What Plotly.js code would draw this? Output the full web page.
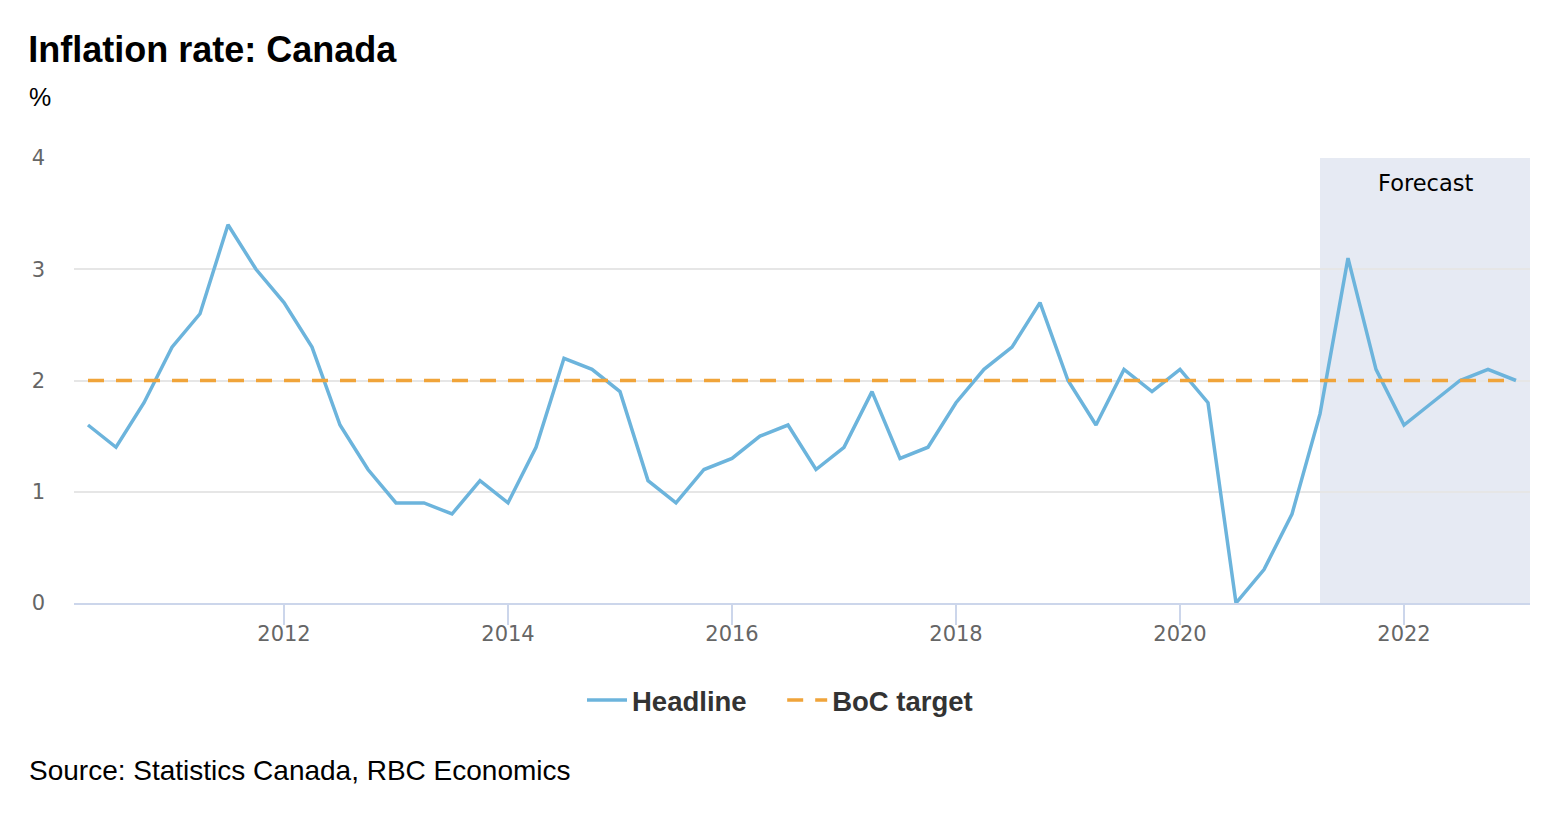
<!DOCTYPE html>
<html>
<head>
<meta charset="utf-8">
<script src="https://cdn.plot.ly/plotly-3.0.1.min.js"></script>
<style>html,body{margin:0;padding:0;background:#fff;}#chart{width:1568px;height:822px;}</style>
</head>
<body>
<div id="chart"></div>
<script>
// Quarterly dates (decimal years), Q2 2010 .. Q1 2023
const quarters = [
  2010.25,2010.5,2010.75,2011.0,2011.25,2011.5,2011.75,2012.0,
  2012.25,2012.5,2012.75,2013.0,2013.25,2013.5,2013.75,2014.0,
  2014.25,2014.5,2014.75,2015.0,2015.25,2015.5,2015.75,2016.0,
  2016.25,2016.5,2016.75,2017.0,2017.25,2017.5,2017.75,2018.0,
  2018.25,2018.5,2018.75,2019.0,2019.25,2019.5,2019.75,2020.0,
  2020.25,2020.5,2020.75,2021.0,2021.25,2021.5,2021.75,2022.0,
  2022.25,2022.5,2022.75,2023.0
];
const headline = [
  1.6,1.4,1.8,2.3,2.6,3.4,3.0,2.7,
  2.3,1.6,1.2,0.9,0.9,0.8,1.1,0.9,
  1.4,2.2,2.1,1.9,1.1,0.9,1.2,1.3,
  1.5,1.6,1.2,1.4,1.9,1.3,1.4,1.8,
  2.1,2.3,2.7,2.0,1.6,2.1,1.9,2.1,
  1.8,0.0,0.3,0.8,1.7,3.1,2.1,1.6,
  1.8,2.0,2.1,2.0
];
const bocTarget = quarters.map(() => 2.0);
const forecastStart = 2021.25;
const xRange = [2010.125, 2023.125];
const xTicks = [2012, 2014, 2016, 2018, 2020, 2022];
const yTicks = [0, 1, 2, 3, 4];

const traces = [
  {x: quarters, y: headline, name: '<b>Headline</b>&nbsp;&nbsp;&nbsp;&nbsp;', type: 'scatter', mode: 'lines',
   line: {color: '#6cb4dc', width: 3.5}},
  {x: quarters, y: bocTarget, name: '<b>BoC target</b>', type: 'scatter', mode: 'lines',
   line: {color: '#f0a43a', width: 3.5, dash: '16px,12px'}}
];

const layout = {
  width: 1568, height: 822,
  margin: {l: 74, r: 38, t: 158, b: 219},
  paper_bgcolor: '#ffffff', plot_bgcolor: '#ffffff',
  title: {text: '<b>Inflation rate: Canada</b>', xref: 'container', yref: 'container',
          x: 0.018, xanchor: 'left', y: 1 - 49/822, yanchor: 'middle',
          font: {family: 'Liberation Sans, Arial, sans-serif', size: 36, color: '#000'}},
  showlegend: true,
  legend: {orientation: 'h', x: (780 - 74) / 1456, xanchor: 'center', y: -0.218, yanchor: 'middle',
           font: {family: 'Liberation Sans, Arial, sans-serif', size: 27.5, color: '#333'},
           itemwidth: 40, tracegroupgap: 0},
  xaxis: {range: xRange, tickvals: xTicks, ticktext: xTicks.map(String),
          showgrid: false, zeroline: false, showline: true, linecolor: '#ccd6eb', linewidth: 2,
          ticks: 'outside', ticklen: 20, tickcolor: '#ccd6eb', tickwidth: 2, ticklabelstandoff: -9,
          tickfont: {family: 'DejaVu Sans, sans-serif', size: 21, color: '#666'}, fixedrange: true},
  yaxis: {range: [0, 4], tickvals: yTicks, showgrid: true, gridcolor: '#e6e6e6', gridwidth: 2,
          zeroline: false, showline: false, ticks: '', ticklabelstandoff: 28,
          tickfont: {family: 'DejaVu Sans, sans-serif', size: 21, color: '#666'}, fixedrange: true},
  shapes: [
    {type: 'rect', xref: 'x', yref: 'paper', x0: forecastStart, x1: xRange[1], y0: 0, y1: 1,
     fillcolor: '#e6eaf3', line: {width: 0}, layer: 'below'}
  ],
  annotations: [
    {text: 'Forecast', xref: 'x', yref: 'paper', x: (forecastStart + xRange[1]) / 2, y: 0.943,
     xanchor: 'center', yanchor: 'middle', showarrow: false,
     font: {family: 'DejaVu Sans, sans-serif', size: 22.5, color: '#000'}},
    {text: '%', xref: 'paper', yref: 'paper', x: -47/1456, y: 1 + (158-97)/445,
     xanchor: 'left', yanchor: 'middle', showarrow: false,
     font: {family: 'Liberation Sans, Arial, sans-serif', size: 25, color: '#000'}},
    {text: 'Source: Statistics Canada, RBC Economics', xref: 'paper', yref: 'paper',
     x: -47/1456, y: -(770-603)/445, xanchor: 'left', yanchor: 'middle', showarrow: false,
     font: {family: 'Liberation Sans, Arial, sans-serif', size: 28, color: '#000'}}
  ]
};

Plotly.newPlot('chart', traces, layout, {displayModeBar: false, staticPlot: true});
</script>
</body>
</html>
